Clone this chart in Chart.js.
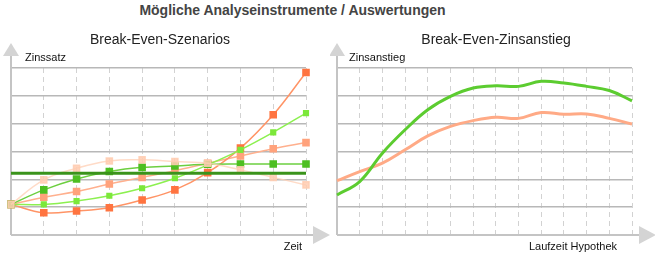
<!DOCTYPE html>
<html>
<head>
<meta charset="utf-8">
<script src="https://cdn.jsdelivr.net/npm/chart.js@4"></script>
<style>
    body { margin: 0; background: #fff; width: 655px; height: 256px; overflow: hidden; position: relative; font-family: "Liberation Sans", Arial, sans-serif; }
    #title { position: absolute; left: 0; width: 585px; top: 2px; text-align: center; font-weight: bold; font-size: 14px; color: #444; }
    .box { position: absolute; top: 0; height: 256px; }
    #boxLeft { left: 0; width: 330px; }
    #boxRight { left: 330px; width: 325px; }
</style>
</head>
<body>
<div id="title">Mögliche Analyseinstrumente / Auswertungen</div>
<div class="box" id="boxLeft"><canvas id="szenarios" width="330" height="256"></canvas></div>
<div class="box" id="boxRight"><canvas id="zinsanstieg" width="325" height="256"></canvas></div>
<script>
// Break-Even-Szenarios (Zeit)
const zeit = ['0', '1', '2', '3', '4', '5', '6', '7', '8', '9'];
const szenarioStark = [1.10, 0.80, 0.86, 0.98, 1.26, 1.62, 2.24, 3.12, 4.32, 5.84];
const szenarioMittel = [1.10, 1.36, 1.56, 1.83, 2.07, 2.31, 2.58, 2.84, 3.10, 3.32];
const szenarioFlach = [1.10, 1.98, 2.40, 2.66, 2.70, 2.64, 2.58, 2.34, 2.07, 1.80];
const szenarioGruen = [1.10, 1.10, 1.22, 1.41, 1.68, 2.04, 2.52, 3.06, 3.69, 4.38];
const szenarioStabil = [1.10, 1.62, 2.01, 2.28, 2.43, 2.48, 2.54, 2.55, 2.55, 2.55];
const breakEven = 2.22;

// Break-Even-Zinsanstieg (Laufzeit Hypothek)
const laufzeit = ['0', '1', '2', '3', '4', '5', '6', '7', '8', '9', '10', '11', '12', '13'];
const anstiegGruen = [1.44, 1.92, 2.94, 3.78, 4.50, 4.98, 5.28, 5.36, 5.34, 5.52, 5.46, 5.34, 5.19, 4.82];
const anstiegOrange = [1.95, 2.28, 2.58, 3.06, 3.56, 3.90, 4.11, 4.23, 4.19, 4.40, 4.34, 4.35, 4.19, 3.99];

const FONT = '"Liberation Sans", Arial, sans-serif';

// axes with arrows, titles and axis labels
const decoPlugin = {
    id: 'deco',
    beforeDatasetsDraw(chart, args, opts) {
        const ctx = chart.ctx;
        const a = chart.chartArea;
        ctx.save();
        ctx.strokeStyle = '#c4c4c4';
        ctx.lineWidth = 2;
        ctx.beginPath();
        ctx.moveTo(a.left, a.bottom);
        ctx.lineTo(a.left, 52);
        ctx.moveTo(a.left, a.bottom);
        ctx.lineTo(a.right + 8, a.bottom);
        ctx.stroke();
        ctx.fillStyle = '#d4d4d4';
        ctx.beginPath();
        ctx.moveTo(a.left, 43);
        ctx.lineTo(a.left - 8, 56);
        ctx.lineTo(a.left + 8, 56);
        ctx.closePath();
        ctx.fill();
        ctx.beginPath();
        ctx.moveTo(a.right + 24, a.bottom);
        ctx.lineTo(a.right + 7, a.bottom - 9);
        ctx.lineTo(a.right + 7, a.bottom + 9);
        ctx.closePath();
        ctx.fill();
        ctx.restore();
    },
    afterDraw(chart, args, opts) {
        const ctx = chart.ctx;
        ctx.save();
        ctx.fillStyle = '#222';
        ctx.font = '14px ' + FONT;
        ctx.textAlign = 'center';
        ctx.textBaseline = 'alphabetic';
        ctx.fillText(opts.title, opts.titleX, 44);
        ctx.fillStyle = '#111';
        ctx.font = '11px ' + FONT;
        ctx.textAlign = 'left';
        ctx.fillText(opts.yLabel, opts.yLabelX, 61);
        ctx.textAlign = 'right';
        ctx.fillText(opts.xLabel, opts.xLabelX, 250);
        ctx.restore();
    }
};

const scalesFor = () => ({
    x: {
        offset: false,
        ticks: { display: false },
        grid: {
            drawTicks: false,
            color: (c) => c.index === 0 ? 'rgba(0,0,0,0)' : '#d2d2d2',
            lineWidth: 1
        },
        border: { display: false, dash: [5, 4] }
    },
    y: {
        min: 0,
        max: 6,
        ticks: { display: false, stepSize: 1 },
        border: { display: false },
        grid: {
            drawTicks: false,
            color: (c) => c.index === 0 ? 'rgba(0,0,0,0)' : '#b8b8b8',
            lineWidth: 1.5
        }
    }
});

const line = (data, color, pointColor, radius, order) => ({
    data: data,
    borderColor: color,
    backgroundColor: pointColor,
    pointBackgroundColor: pointColor,
    pointBorderColor: pointColor,
    borderWidth: 1.5,
    pointStyle: 'rect',
    pointRadius: radius,
    pointHoverRadius: radius,
    tension: 0.4,
    order: order
});

new Chart(document.getElementById('szenarios'), {
    type: 'line',
    data: {
        labels: zeit,
        datasets: [
            {
                data: zeit.map(() => breakEven),
                borderColor: '#3a931b',
                borderWidth: 3,
                pointRadius: 0,
                tension: 0,
                order: 0
            },
            line(szenarioFlach, 'rgba(255,210,185,0.8)', 'rgba(255,205,178,0.85)', 4.3, 1),
            line(szenarioStabil, '#6ccf40', '#4dbf22', 4.3, 2),
            line(szenarioGruen, '#8cf050', '#7ce83a', 3.3, 3),
            line(szenarioStark, '#ff9466', '#ff7440', 4.3, 4),
            line(szenarioMittel, '#ffb08e', '#ffa27c', 4.3, 5)
        ]
    },
    options: {
        responsive: false,
        animation: false,
        events: [],
        layout: { padding: { left: 11, right: 24, top: 68, bottom: 21 } },
        scales: scalesFor(),
        plugins: {
            legend: { display: false },
            tooltip: { enabled: false },
            deco: { title: 'Break-Even-Szenarios', titleX: 160, yLabel: 'Zinssatz', yLabelX: 25, xLabel: 'Zeit', xLabelX: 302 }
        }
    },
    plugins: [decoPlugin]
});

new Chart(document.getElementById('zinsanstieg'), {
    type: 'line',
    data: {
        labels: laufzeit,
        datasets: [
            {
                data: anstiegGruen,
                borderColor: '#5ccc30',
                borderWidth: 3,
                pointRadius: 0,
                tension: 0.4
            },
            {
                data: anstiegOrange,
                borderColor: '#ffaa86',
                borderWidth: 3,
                pointRadius: 0,
                tension: 0.4
            }
        ]
    },
    options: {
        responsive: false,
        animation: false,
        events: [],
        layout: { padding: { left: 7, right: 23, top: 68, bottom: 21 } },
        scales: scalesFor(),
        plugins: {
            legend: { display: false },
            tooltip: { enabled: false },
            deco: { title: 'Break-Even-Zinsanstieg', titleX: 166, yLabel: 'Zinsanstieg', yLabelX: 19, xLabel: 'Laufzeit Hypothek', xLabelX: 287 }
        }
    },
    plugins: [decoPlugin]
});
</script>
</body>
</html>
